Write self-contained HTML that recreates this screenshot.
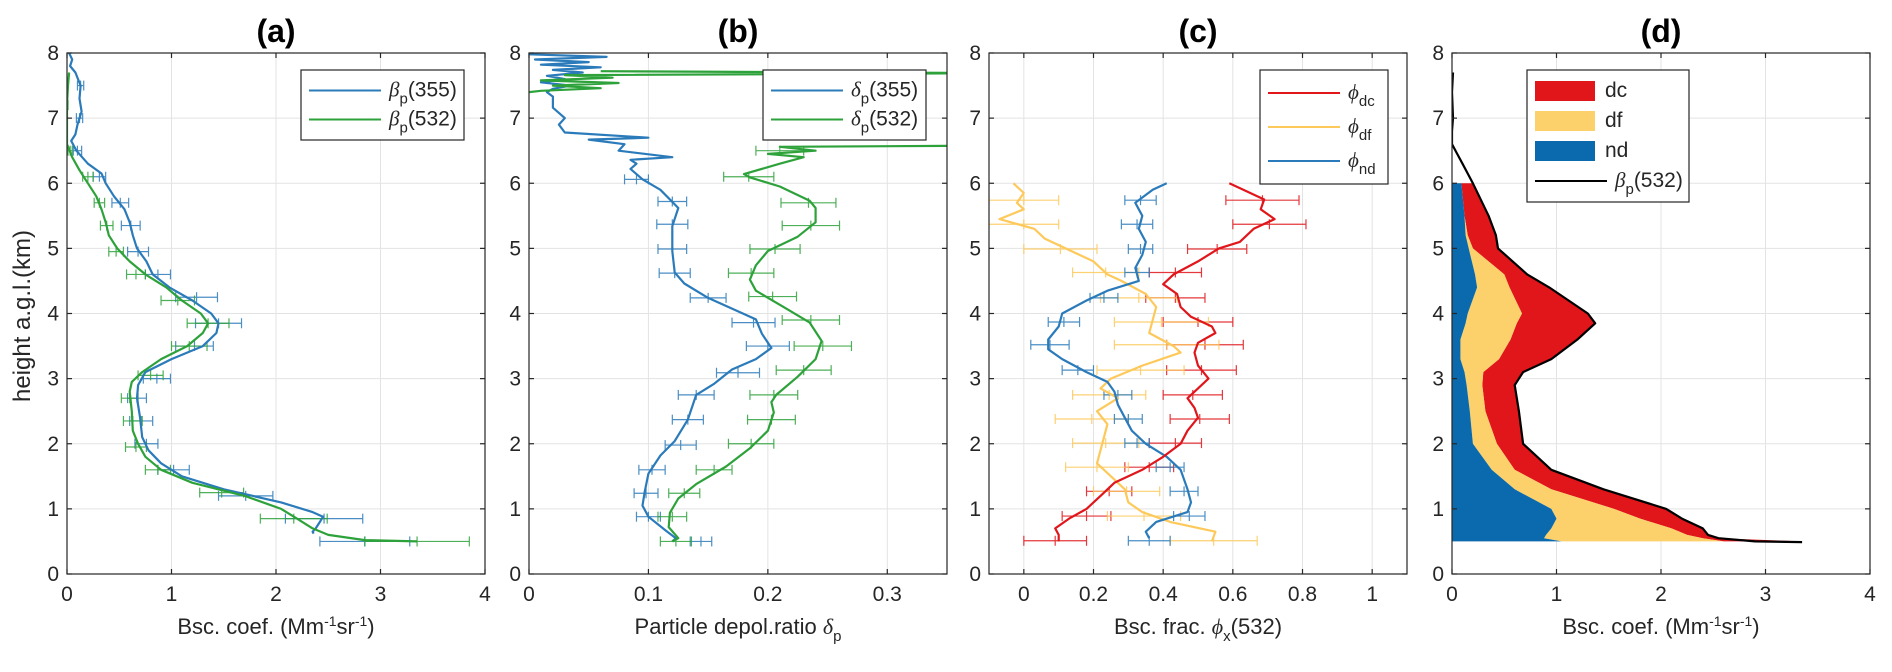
<!DOCTYPE html>
<html><head><meta charset="utf-8">
<style>
body{margin:0;background:#fff;}
svg{display:block;font-family:"Liberation Sans",Arial,sans-serif;}
</style></head>
<body>
<svg id="fig" width="1892" height="672" viewBox="0 0 1892 672" xmlns="http://www.w3.org/2000/svg"></svg>
<script>
// ---------- DATA ----------
// panel a
const aH355 = [8.0,7.9,7.8,7.7,7.5,7.3,7.1,6.9,6.75,6.65,6.5,6.3,6.15,6.0,5.8,5.6,5.4,5.2,5.0,4.8,4.6,4.4,4.2,4.0,3.85,3.7,3.5,3.3,3.1,2.9,2.7,2.4,2.1,1.9,1.7,1.5,1.3,1.1,0.95,0.88,0.8,0.7,0.65,0.62];
const aV355 = [0.02,0.05,0.03,0.08,0.13,0.12,0.14,0.1,0.08,0.04,0.09,0.2,0.33,0.37,0.45,0.55,0.6,0.63,0.67,0.76,0.82,0.98,1.2,1.38,1.45,1.43,1.3,1.0,0.75,0.68,0.67,0.7,0.72,0.78,0.9,1.1,1.5,2.05,2.35,2.45,2.42,2.38,2.35,2.36];
const aH532 = [7.7,7.5,7.2,6.9,6.6,6.4,6.2,6.0,5.8,5.6,5.4,5.2,5.0,4.8,4.6,4.4,4.2,4.0,3.85,3.7,3.5,3.3,3.1,2.95,2.8,2.5,2.2,2.0,1.8,1.6,1.4,1.2,1.0,0.85,0.7,0.6,0.52,0.5];
const aV532 = [0.02,0.01,0.0,0.0,0.0,0.05,0.12,0.2,0.28,0.33,0.37,0.4,0.48,0.6,0.75,0.95,1.1,1.28,1.35,1.3,1.15,0.9,0.72,0.62,0.6,0.62,0.63,0.68,0.75,0.9,1.2,1.7,2.05,2.2,2.35,2.5,2.85,3.35];
const aEbH355 = [7.5,7.0,6.5,6.1,5.7,5.35,4.95,4.6,4.25,3.85,3.5,3.0,2.7,2.35,2.0,1.6,1.2,0.85,0.5];
const aEbC355 = [0.13,0.12,0.1,0.31,0.51,0.61,0.68,0.87,1.24,1.45,1.22,0.86,0.67,0.71,0.76,1.02,1.71,2.46,2.85];
const aEbE355 = [0.03,0.03,0.04,0.06,0.08,0.09,0.1,0.12,0.2,0.22,0.18,0.13,0.09,0.11,0.11,0.15,0.26,0.37,0.43];
const aEbH532 = [7.2,6.5,6.1,5.7,5.35,4.95,4.6,4.2,3.85,3.5,3.05,2.7,2.35,1.95,1.6,1.25,0.85,0.5];
const aEbC532 = [0.0,0.03,0.2,0.31,0.38,0.47,0.66,1.06,1.35,1.17,0.8,0.6,0.63,0.66,0.87,1.48,2.17,3.35];
const aEbE532 = [0.01,0.02,0.05,0.05,0.06,0.07,0.09,0.16,0.2,0.17,0.12,0.08,0.09,0.1,0.12,0.21,0.32,0.5];
// panel b
const bH355 = [7.98,7.94,7.9,7.86,7.82,7.78,7.74,7.7,7.65,7.6,7.55,7.5,7.45,7.4,7.33,7.16,7.0,6.9,6.78,6.7,6.67,6.6,6.5,6.4,6.36,6.3,6.22,6.06,5.9,5.62,5.34,4.96,4.63,4.46,4.24,3.91,3.69,3.47,3.3,3.14,2.92,2.75,2.37,2.04,1.82,1.54,1.27,1.05,0.88,0.66,0.55,0.5];
const bV355 = [0.0,0.065,0.005,0.05,0.01,0.06,0.02,0.045,0.015,0.03,0.01,0.035,0.02,0.015,0.02,0.02,0.03,0.025,0.03,0.1,0.05,0.08,0.075,0.12,0.085,0.09,0.085,0.095,0.11,0.125,0.12,0.12,0.122,0.13,0.15,0.19,0.195,0.203,0.19,0.17,0.155,0.14,0.133,0.122,0.11,0.1,0.097,0.095,0.1,0.115,0.123,0.12];
const bH532 = [7.72,7.69,7.66,7.62,7.58,7.54,7.5,7.46,7.42,7.4,null,6.58,6.56,6.5,6.45,6.4,6.3,6.14,6.09,5.95,5.73,5.62,5.4,5.18,4.96,4.74,4.52,4.35,4.08,3.86,3.58,3.3,3.03,2.75,2.64,2.48,2.2,1.93,1.65,1.38,1.16,0.94,0.72,0.55,0.5];
const bV532 = [0.06,0.4,0.03,0.07,0.01,0.075,0.02,0.06,0.01,0.0,null,0.4,0.21,0.24,0.2,0.23,0.21,0.18,0.185,0.21,0.235,0.24,0.24,0.225,0.2,0.19,0.185,0.19,0.215,0.235,0.245,0.24,0.225,0.207,0.203,0.205,0.2,0.185,0.165,0.14,0.125,0.118,0.117,0.125,0.12];
const bEbH355 = [6.06,5.72,5.37,4.99,4.62,4.24,3.86,3.5,3.09,2.75,2.37,1.98,1.6,1.24,0.88,0.5];
const bEbC355 = [0.09,0.12,0.12,0.12,0.122,0.15,0.188,0.2,0.175,0.14,0.133,0.127,0.103,0.098,0.1,0.144];
const bEbE355 = [0.01,0.012,0.013,0.012,0.013,0.015,0.018,0.018,0.018,0.015,0.013,0.013,0.011,0.01,0.01,0.009];
const bEbH532 = [6.5,6.1,5.7,5.35,4.99,4.62,4.26,3.9,3.5,3.13,2.75,2.37,2.0,1.6,1.24,0.88,0.5];
const bEbC532 = [0.21,0.184,0.234,0.236,0.206,0.186,0.204,0.236,0.246,0.23,0.205,0.203,0.186,0.155,0.13,0.12,0.123];
const bEbE532 = [0.02,0.021,0.023,0.024,0.021,0.019,0.02,0.024,0.024,0.023,0.02,0.02,0.019,0.015,0.013,0.012,0.013];
// panel c
const cHdc = [6.0,5.9,5.75,5.6,5.45,5.3,5.1,5.0,4.8,4.6,4.45,4.3,4.1,3.95,3.8,3.7,3.55,3.4,3.2,3.0,2.85,2.7,2.55,2.4,2.2,2.0,1.8,1.6,1.4,1.2,1.0,0.85,0.7,0.6,0.5];
const cDc = [0.59,0.63,0.69,0.68,0.72,0.66,0.62,0.56,0.5,0.43,0.4,0.44,0.45,0.48,0.54,0.55,0.5,0.49,0.5,0.53,0.5,0.47,0.49,0.5,0.47,0.45,0.4,0.34,0.26,0.22,0.18,0.13,0.09,0.1,0.1];
const cHdf = [6.0,5.85,5.7,5.6,5.45,5.3,5.15,5.0,4.8,4.6,4.5,4.3,4.1,3.9,3.7,3.5,3.4,3.2,3.0,2.85,2.7,2.5,2.3,2.1,1.9,1.7,1.5,1.3,1.1,0.95,0.8,0.65,0.5];
const cDf = [-0.03,0.0,-0.02,0.0,-0.07,0.03,0.06,0.12,0.2,0.24,0.28,0.35,0.38,0.37,0.36,0.43,0.45,0.34,0.25,0.22,0.27,0.21,0.24,0.23,0.22,0.21,0.25,0.29,0.3,0.34,0.42,0.55,0.54];
const cHnd = [6.0,5.9,5.7,5.5,5.3,5.1,4.9,4.7,4.5,4.35,4.2,4.0,3.8,3.6,3.45,3.3,3.1,2.95,2.8,2.6,2.4,2.2,2.0,1.8,1.6,1.3,1.1,0.95,0.8,0.65,0.55];
const cNd = [0.41,0.37,0.32,0.34,0.33,0.35,0.34,0.32,0.33,0.24,0.18,0.11,0.1,0.07,0.07,0.11,0.18,0.24,0.26,0.27,0.29,0.31,0.35,0.41,0.45,0.47,0.48,0.47,0.38,0.35,0.36];
const cEbH = [5.74,5.37,4.99,4.63,4.24,3.87,3.52,3.13,2.75,2.38,2.01,1.64,1.27,0.89,0.51];
const cEbCdc = [0.685,0.705,0.555,0.435,0.435,0.5,0.52,0.51,0.485,0.505,0.435,0.36,0.245,0.18,0.09];
const cEbEdc = [0.105,0.105,0.085,0.075,0.085,0.1,0.11,0.1,0.085,0.085,0.075,0.07,0.065,0.07,0.09];
const cEbCdf = [0.0,0.0,0.105,0.235,0.33,0.395,0.41,0.335,0.245,0.195,0.235,0.21,0.295,0.345,0.545];
const cEbEdf = [0.1,0.1,0.105,0.095,0.11,0.135,0.15,0.125,0.105,0.105,0.095,0.09,0.095,0.105,0.125];
const cEbCnd = [0.335,0.325,0.335,0.325,0.23,0.115,0.075,0.155,0.27,0.3,0.325,0.42,0.46,0.475,0.36];
const cEbEnd = [0.045,0.045,0.035,0.035,0.04,0.045,0.055,0.045,0.04,0.04,0.035,0.04,0.04,0.045,0.06];
// panel d (component backscatter, Mm-1 sr-1)
const dH = [6.0,5.5,5.2,5.0,4.6,4.4,4.0,3.85,3.6,3.3,3.1,2.9,2.5,2.0,1.6,1.3,1.0,0.85,0.7,0.6,0.55,0.5];
const dNd = [0.09,0.12,0.13,0.16,0.22,0.24,0.15,0.13,0.08,0.08,0.12,0.14,0.17,0.2,0.38,0.6,0.95,1.0,0.95,0.9,0.88,1.05];
const dDf = [0.0,0.0,0.02,0.04,0.28,0.31,0.52,0.49,0.48,0.37,0.18,0.15,0.15,0.23,0.22,0.35,0.6,0.8,1.15,1.35,1.52,1.55];
const dDc = [0.11,0.23,0.27,0.24,0.22,0.38,0.63,0.75,0.64,0.5,0.38,0.31,0.32,0.25,0.35,0.5,0.5,0.4,0.3,0.2,0.15,0.75];
const dTotH = [7.7,7.4,7.0,6.8,6.6,6.45,6.3,6.15,6.0,5.5,5.2,5.0,4.6,4.4,4.0,3.85,3.6,3.3,3.1,2.9,2.5,2.0,1.6,1.3,1.0,0.85,0.7,0.6,0.55,0.5,0.49];
const dTot = [0.01,0.0,0.01,0.0,0.0,0.05,0.1,0.15,0.2,0.35,0.42,0.44,0.72,0.93,1.3,1.37,1.2,0.95,0.68,0.6,0.64,0.68,0.95,1.45,2.05,2.2,2.4,2.45,2.55,2.9,3.35];
const xTicksA = [0,1,2,3,4];
const xTicksB = [0,0.1,0.2,0.3];
const xTicksC = [0,0.2,0.4,0.6,0.8,1];
const yTicks = [0,1,2,3,4,5,6,7,8];

// ---------- DRAW ----------
const NS = "http://www.w3.org/2000/svg";
const svg = document.getElementById('fig');
const Y0 = 574, YT = 53;
function py(h){ return Y0 - h/8*(Y0-YT); }
function mk(tag, attrs, parent){ const e=document.createElementNS(NS,tag); for(const k in attrs) e.setAttribute(k,attrs[k]); (parent||svg).appendChild(e); return e; }
const C = {blue:'#2b7bba', green:'#2ea23a', red:'#e0161b', yel:'#fdc95b', dblue:'#0a6aad', lyel:'#fcd06a'};

function panel(id, x0, xmin, xmax, xt, title, xlabelHtml){
  const w=418;
  const px = v => x0 + (v-xmin)/(xmax-xmin)*w;
  const g = mk('g',{});
  
  
  const cp = mk('clipPath',{id:'clip'+id},g); mk('rect',{x:x0,y:YT,width:w,height:Y0-YT},cp);
  const grid = mk('g',{stroke:'#e3e3e3','stroke-width':1},g);
  
  
  xt.forEach(t=>{ mk('line',{x1:px(t),x2:px(t),y1:YT,y2:Y0},grid); });
  yTicks.forEach(t=>{ mk('line',{x1:x0,x2:x0+w,y1:py(t),y2:py(t)},grid); });
  const plot = mk('g',{'clip-path':'url(#clip'+id+')'},g);
  const ax = mk('g',{stroke:'#262626','stroke-width':1.2,fill:'none'},g);
  
  
  mk('rect',{x:x0,y:YT,width:w,height:Y0-YT},ax);
  xt.forEach(t=>{ mk('line',{x1:px(t),x2:px(t),y1:Y0,y2:Y0-5},ax); mk('line',{x1:px(t),x2:px(t),y1:YT,y2:YT+5},ax); });
  yTicks.forEach(t=>{ mk('line',{x1:x0,x2:x0+5,y1:py(t),y2:py(t)},ax); mk('line',{x1:x0+w,x2:x0+w-5,y1:py(t),y2:py(t)},ax); });
  const tl = mk('g',{'font-size':21,fill:'#262626'},g);
  
  
  xt.forEach(t=>{ const e=mk('text',{x:px(t),y:Y0+27,'text-anchor':'middle'},tl); e.textContent=String(t); });
  yTicks.forEach(t=>{ const e=mk('text',{x:x0-8,y:py(t)+7,'text-anchor':'end'},tl); e.textContent=String(t); });
  const tt = mk('text',{x:x0+w/2,y:42,'text-anchor':'middle','font-size':32,'font-weight':'bold',fill:'#000'},g);
  
  
  tt.textContent=title;
  const xl = mk('text',{x:x0+w/2,y:Y0+60,'text-anchor':'middle','font-size':22,fill:'#262626'},g);
  
  
  xl.innerHTML = xlabelHtml;
  return {px, plot, g, x0, w};
}
function line(P, H, V, color, name, sw){
  let d='', pen=false;
  for(let i=0;i<H.length;i++){
    if(H[i]===null||V[i]===null){pen=false;continue;}
    d += (pen?'L':'M')+P.px(V[i]).toFixed(1)+','+py(H[i]).toFixed(1);
    pen=true;
  }
  const e=mk('path',{d:d,fill:'none',stroke:color,'stroke-width':sw||2.2,'stroke-linejoin':'round'},P.plot);
  
  
}
function ebars(P, H, Cs, E, color, name){
  const g=mk('g',{stroke:color,'stroke-width':1.2,fill:'none',opacity:0.85},P.plot);
  
  
  for(let i=0;i<H.length;i++){
    const y=py(H[i]), l=P.px(Cs[i]-E[i]), r=P.px(Cs[i]+E[i]), c=P.px(Cs[i]);
    mk('line',{x1:l,x2:r,y1:y,y2:y},g);
    mk('line',{x1:l,x2:l,y1:y-5,y2:y+5},g);
    mk('line',{x1:r,x2:r,y1:y-5,y2:y+5},g);
    mk('line',{x1:c,x2:c,y1:y-5,y2:y+5},g);
  }
}
function legend(P, x, y, w, entries, name){
  const g=mk('g',{},P.g);
  
  
  const rowH = entries.rowH;
  mk('rect',{x:x,y:y,width:w,height:entries.items.length*rowH+12,fill:'#fff',stroke:'#262626','stroke-width':1.2},g);
  entries.items.forEach((it,i)=>{
    const cy=y+6+rowH*(i+0.5);
    const en=mk('g',{},g);
    
    
    if(it.patch) mk('rect',{x:x+8,y:cy-10,width:60,height:20,fill:it.color},en);
    else mk('line',{x1:x+8,x2:x+80,y1:cy,y2:cy,stroke:it.color,'stroke-width':2},en);
    const t=mk('text',{x:x+(it.patch?78:88),y:cy+6,'font-size':21,fill:'#262626'},en);
    t.innerHTML=it.label;
  });
}
const sub = (b,s)=>`<tspan font-family="Liberation Serif, serif" font-style="italic">${b}</tspan><tspan dy="7" font-size="15">${s}</tspan><tspan dy="-7">`;

// Panel a
const A = panel('a',67,0,4,xTicksA,'(a)','Bsc. coef. (Mm<tspan dy="-8" font-size="14">-1</tspan><tspan dy="8">sr</tspan><tspan dy="-8" font-size="14">-1</tspan><tspan dy="8">)</tspan>');
ebars(A,aEbH355,aEbC355,aEbE355,C.blue,'errorbars-beta355');
ebars(A,aEbH532,aEbC532,aEbE532,C.green,'errorbars-beta532');
line(A,aH355,aV355,C.blue,'line-beta355');
line(A,aH532,aV532,C.green,'line-beta532');
legend(A,301,70,163,{rowH:29,items:[{key:'beta355',color:C.blue,label:sub('β','p')+'(355)</tspan>'},{key:'beta532',color:C.green,label:sub('β','p')+'(532)</tspan>'}]},'legend-a');
const yl=mk('text',{x:0,y:0,transform:'translate(30,316) rotate(-90)','text-anchor':'middle','font-size':24,fill:'#262626'});


yl.textContent='height a.g.l.(km)';

// Panel b
const B = panel('b',529,0,0.35,xTicksB,'(b)','Particle depol.ratio <tspan font-family="Liberation Serif, serif" font-style="italic">δ</tspan><tspan dy="7" font-size="15">p</tspan>');
ebars(B,bEbH355,bEbC355,bEbE355,C.blue,'errorbars-delta355');
ebars(B,bEbH532,bEbC532,bEbE532,C.green,'errorbars-delta532');
line(B,bH355,bV355,C.blue,'line-delta355');
line(B,bH532,bV532,C.green,'line-delta532');
legend(B,763,70,163,{rowH:29,items:[{key:'delta355',color:C.blue,label:sub('δ','p')+'(355)</tspan>'},{key:'delta532',color:C.green,label:sub('δ','p')+'(532)</tspan>'}]},'legend-b');

// Panel c
const Cp = panel('c',989,-0.1,1.1,xTicksC,'(c)','Bsc. frac. <tspan font-family="Liberation Serif, serif" font-style="italic">ϕ</tspan><tspan dy="7" font-size="15">x</tspan><tspan dy="-7">(532)</tspan>');
ebars(Cp,cEbH,cEbCdc,cEbEdc,C.red,'errorbars-dc');
ebars(Cp,cEbH,cEbCdf,cEbEdf,C.yel,'errorbars-df');
ebars(Cp,cEbH,cEbCnd,cEbEnd,C.blue,'errorbars-nd');
line(Cp,cHdf,cDf,C.yel,'line-phi-df');
line(Cp,cHnd,cNd,C.blue,'line-phi-nd');
line(Cp,cHdc,cDc,C.red,'line-phi-dc');
legend(Cp,1260,70,128,{rowH:34,items:[{key:'dc',color:C.red,label:sub('ϕ','dc')+'</tspan>'},{key:'df',color:C.yel,label:sub('ϕ','df')+'</tspan>'},{key:'nd',color:C.blue,label:sub('ϕ','nd')+'</tspan>'}]},'legend-c');

// Panel d
const D = panel('d',1452,0,4,xTicksA,'(d)','Bsc. coef. (Mm<tspan dy="-8" font-size="14">-1</tspan><tspan dy="8">sr</tspan><tspan dy="-8" font-size="14">-1</tspan><tspan dy="8">)</tspan>');
function area(P,H,lo,hi,color,name){
  let d='M'+P.px(lo[0])+','+py(H[0]);
  for(let i=0;i<H.length;i++) d+='L'+P.px(hi[i]).toFixed(1)+','+py(H[i]).toFixed(1);
  for(let i=H.length-1;i>=0;i--) d+='L'+P.px(lo[i]).toFixed(1)+','+py(H[i]).toFixed(1);
  const e=mk('path',{d:d+'Z',fill:color,stroke:'none'},P.plot);
  
  
}
const zero=dH.map(()=>0);
const c1=dNd.slice(), c2=dNd.map((v,i)=>v+dDf[i]), c3=c2.map((v,i)=>v+dDc[i]);
area(D,dH,c2,c3,C.red,'area-dc');
area(D,dH,c1,c2,C.lyel,'area-df');
area(D,dH,zero,c1,C.dblue,'area-nd');
line(D,dTotH,dTot,'#000','line-beta532-total',2.2);
legend(D,1527,70,162,{rowH:30,items:[{key:'dc',color:C.red,patch:true,label:'dc'},{key:'df',color:C.lyel,patch:true,label:'df'},{key:'nd',color:C.dblue,patch:true,label:'nd'},{key:'beta532',color:'#000',label:sub('β','p')+'(532)</tspan>'}]},'legend-d');
</script>
</body></html>
